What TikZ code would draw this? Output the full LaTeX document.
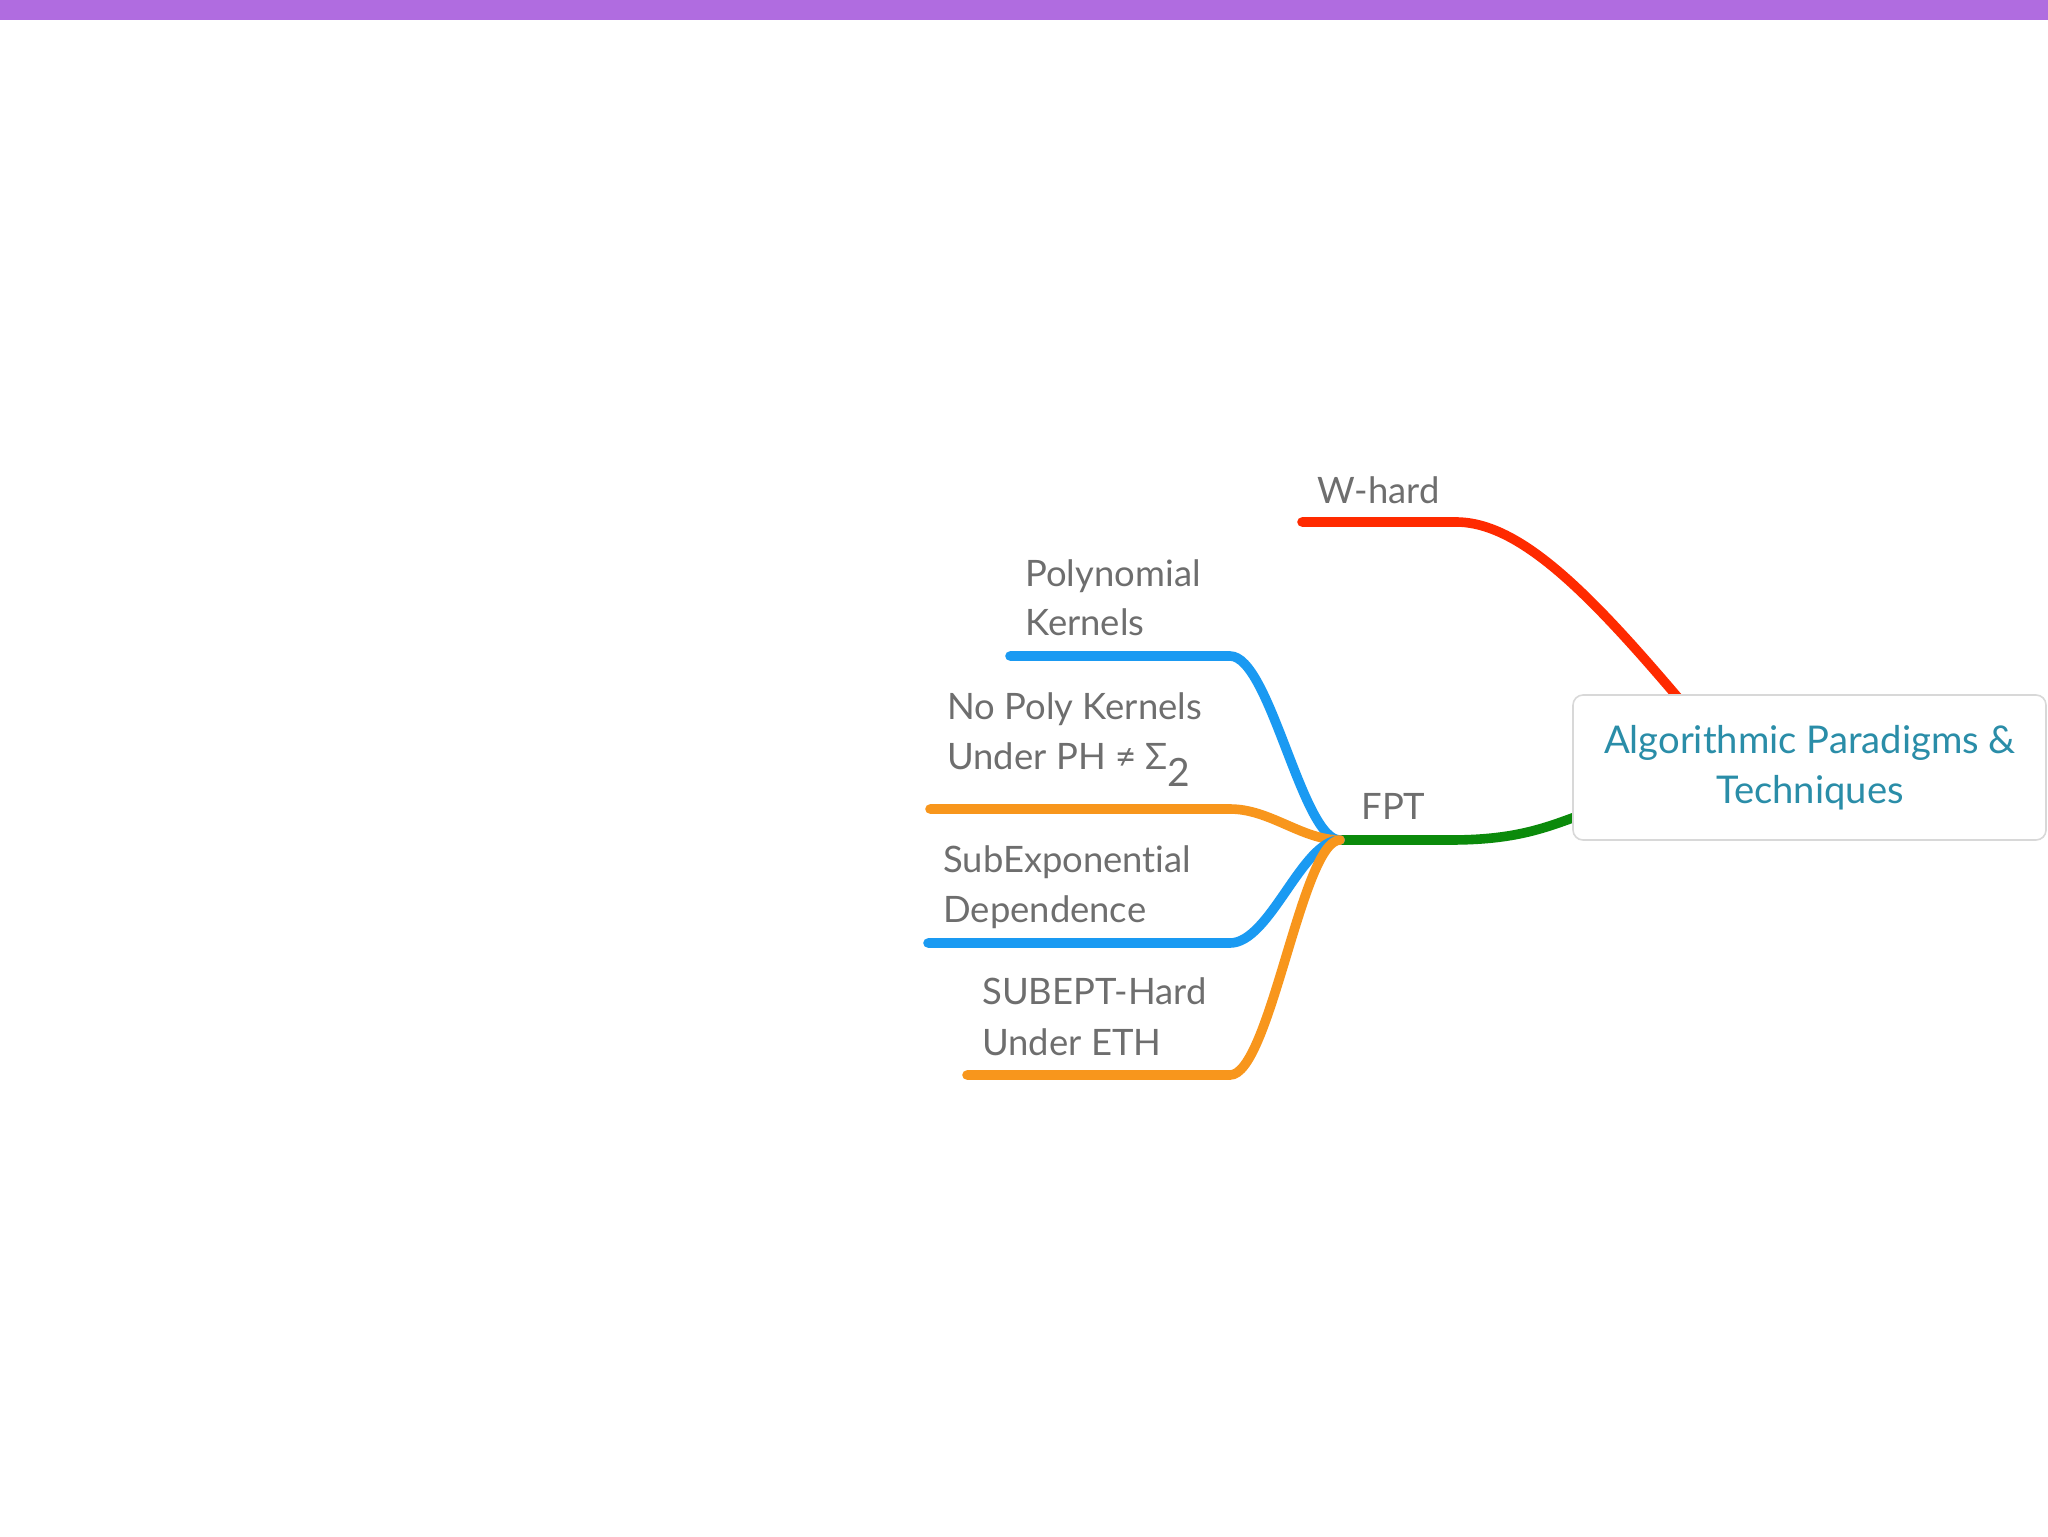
\documentclass[tikz,border=0pt]{standalone}
\usepackage{fontspec}
\setmainfont{Lato}[Ligatures=NoCommon]
\definecolor{barpurple}{HTML}{B06CE0}
\definecolor{cred}{HTML}{FF2A00}
\definecolor{cblue}{HTML}{1A9AF2}
\definecolor{corange}{HTML}{F8961C}
\definecolor{cgreen}{HTML}{0B8A0B}
\definecolor{labgray}{HTML}{6E6E6E}
\definecolor{titleteal}{HTML}{2A8DA8}
\definecolor{boxborder}{HTML}{D8D8D8}
\begin{document}
\begin{tikzpicture}[x=0.5pt,y=-0.5pt,
  branch/.style={line width=4.8pt,line cap=round},
  lab/.style={anchor=base west,inner sep=0pt,text=labgray,font=\fontsize{18.2}{21}\selectfont},
  ttl/.style={anchor=base,inner sep=0pt,text=titleteal,font=\fontsize{19.1}{22}\selectfont},
  rootbox/.style={draw=boxborder,line width=0.8pt,fill=white,rounded corners=5pt,minimum width=236.5pt,minimum height=72.5pt,inner sep=0pt}]
\useasboundingbox (0,0) rectangle (2048,1536);
\fill[white] (0,0) rectangle (2048,1536);
\fill[barpurple] (0,0) rectangle (2048,20);
% coordinates
\coordinate (hub) at (1340,840);
\coordinate (whEnd) at (1302,522);
\coordinate (whCorner) at (1456,522);
\coordinate (rootTop) at (1680,700);
\coordinate (rootLeft) at (1575,817);
\coordinate (pkEnd) at (1010,656);
\coordinate (pkCorner) at (1230,656);
\coordinate (npEnd) at (930,809);
\coordinate (npCorner) at (1230,809);
\coordinate (seEnd) at (928,943);
\coordinate (seCorner) at (1230,943);
\coordinate (shEnd) at (967,1075);
\coordinate (shCorner) at (1230,1075);
% branches
\draw[branch,cred] (whEnd) -- (whCorner) .. controls (1520,522) and (1590,594) .. (rootTop);
\draw[branch,cgreen] (hub) -- (1450,840) .. controls (1510,840) and (1540,830) .. (rootLeft);
\draw[branch,cblue] (hub) .. controls (1302,840) and (1270,656) .. (pkCorner) -- (pkEnd);
\draw[branch,corange] (hub) .. controls (1302,840) and (1270,809) .. (npCorner) -- (npEnd);
\draw[branch,cblue] (hub) .. controls (1302,840) and (1270,943) .. (seCorner) -- (seEnd);
\draw[branch,corange] (hub) .. controls (1302,840) and (1270,1075) .. (shCorner) -- (shEnd);
% root
\node[rootbox] (root) at (1809.5,767.5) {};
\node[ttl] (root1) at (1810,753) {Algorithmic Paradigms \&};
\node[ttl] (root2) at (1810,803) {Techniques};
% labels
\node[lab] (wh) at (1317,503) {W-hard};
\node[lab] (fpt) at (1361,819) {FPT};
\node[lab] (pk1) at (1025,586) {Polynomial};
\node[lab] (pk2) at (1025,635) {Kernels};
\node[lab] (np1) at (947,719) {No Poly Kernels};
\node[lab] (np2) at (947,769) {Under PH ≠ Σ\raisebox{-8.5pt}{\fontsize{19.5}{21}\selectfont 2}};
\node[lab] (se1) at (943,872) {SubExponential};
\node[lab] (se2) at (943,922) {Dependence};
\node[lab] (sh1) at (982,1004) {SUBEPT-Hard};
\node[lab] (sh2) at (982,1055) {Under ETH};
\end{tikzpicture}
\end{document}
